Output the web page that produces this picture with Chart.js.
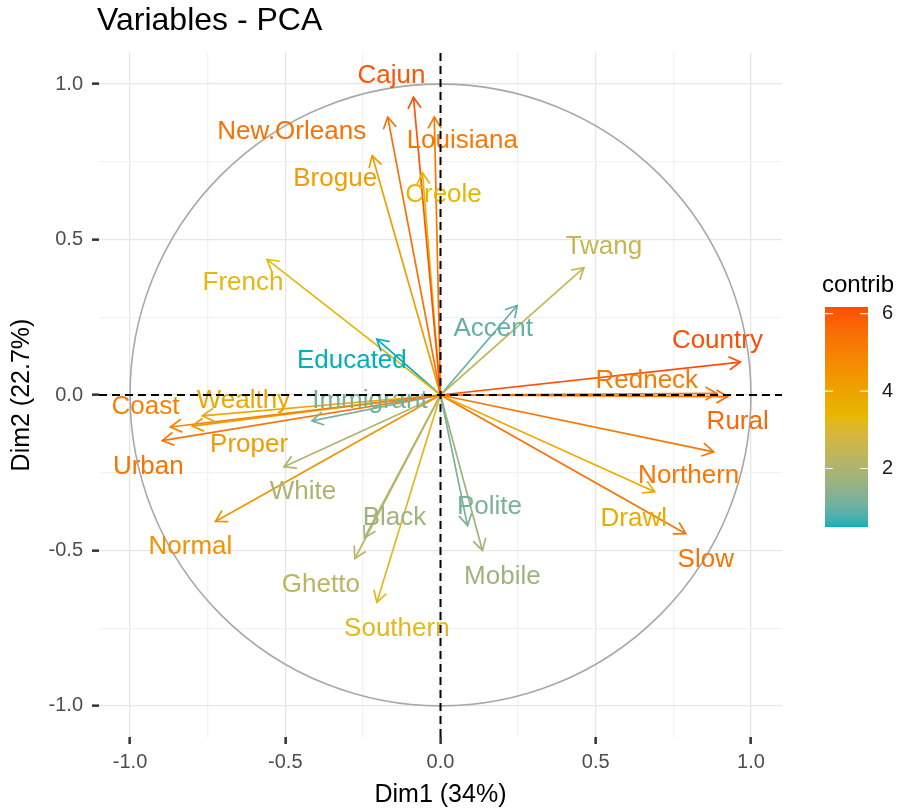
<!DOCTYPE html>
<html>
<head>
<meta charset="utf-8">
<title>Variables - PCA</title>
<script src="https://cdn.jsdelivr.net/npm/chart.js@4.4.1/dist/chart.umd.min.js"></script>
<style>
  html, body { margin: 0; padding: 0; background: #fff; }
  #wrap { width: 912px; height: 811px; }
</style>
</head>
<body>
<div id="wrap"><canvas id="pca"></canvas></div>
<script>
  // Variables and their coordinates on Dim1 / Dim2
  const variables = ['Cajun', 'New.Orleans', 'Louisiana', 'Brogue', 'Creole', 'French', 'Educated',
    'Twang', 'Accent', 'Country', 'Redneck', 'Rural', 'Northern', 'Drawl', 'Slow', 'Polite',
    'Mobile', 'Southern', 'Ghetto', 'Black', 'Normal', 'White', 'Urban', 'Coast', 'Proper',
    'Wealthy', 'Immigrant'];
  const dim1 = [-0.087, -0.17, -0.02, -0.22, -0.058, -0.559, -0.205,
    0.462, 0.247, 0.966, 0.89, 0.925, 0.88, 0.69, 0.79, 0.087,
    0.135, -0.205, -0.276, -0.245, -0.725, -0.504, -0.896, -0.87, -0.80,
    -0.767, -0.414];
  const dim2 = [0.958, 0.894, 0.894, 0.77, 0.715, 0.436, 0.18,
    0.41, 0.288, 0.106, 0.005, -0.005, -0.183, -0.311, -0.446, -0.42,
    -0.50, -0.667, -0.526, -0.46, -0.407, -0.231, -0.147, -0.103, -0.10,
    -0.067, -0.083];
  const contrib = [6.04, 5.41, 5.22, 4.19, 3.36, 3.28, 0.49,
    2.49, 0.94, 6.17, 5.17, 5.59, 5.27, 3.74, 5.37, 1.20,
    1.75, 3.18, 2.30, 1.77, 4.52, 2.01, 5.38, 5.01, 4.24,
    3.87, 1.16];
  const axisTicks = [-1, -0.75, -0.5, -0.25, 0, 0.25, 0.5, 0.75, 1];
  const legendTicks = [2, 4, 6];

  // label placement, pixel nudge from the arrow tip (repel-like)
  const labelNudge = {
    'Cajun': [-22, -21], 'New.Orleans': [-96, 15], 'Louisiana': [28, 24], 'Brogue': [-37, 23],
    'Creole': [21, 22], 'French': [-24, 23], 'Educated': [-25, 22], 'Twang': [20, -21],
    'Accent': [-24, 23], 'Country': [-23, -21], 'Redneck': [-70, -13], 'Rural': [10, 25],
    'Northern': [-25, 24], 'Drawl': [-21, 27], 'Slow': [20, 26], 'Polite': [22, -19],
    'Mobile': [20, 26], 'Southern': [20, 26], 'Ghetto': [-34, 26], 'Black': [30, -20],
    'Normal': [-25, 25], 'White': [19, 25], 'Urban': [-14, 26], 'Coast': [-25, -20],
    'Proper': [57, 19], 'Wealthy': [41, -15], 'Immigrant': [58, -20]
  };

  const FONT = '"Liberation Sans", Arial, Helvetica, sans-serif';
  const gradCols = ['#00AFBB', '#E7B800', '#FC4E07'];
  const cmin = Math.min(...contrib);
  const cmax = Math.max(...contrib);

  // colour gradient interpolated in Lab space (like ggplot's gradientn)
  function hexRgb(h) {
    return [parseInt(h.slice(1, 3), 16), parseInt(h.slice(3, 5), 16), parseInt(h.slice(5, 7), 16)];
  }
  function rgbToLab(rgb) {
    const lin = rgb.map(c => { c /= 255; return c <= 0.04045 ? c / 12.92 : Math.pow((c + 0.055) / 1.055, 2.4); });
    const X = (lin[0] * 0.4124 + lin[1] * 0.3576 + lin[2] * 0.1805) / 0.95047;
    const Y = (lin[0] * 0.2126 + lin[1] * 0.7152 + lin[2] * 0.0722);
    const Z = (lin[0] * 0.0193 + lin[1] * 0.1192 + lin[2] * 0.9505) / 1.08883;
    const f = t => t > 0.008856 ? Math.cbrt(t) : 7.787 * t + 16 / 116;
    const fx = f(X), fy = f(Y), fz = f(Z);
    return [116 * fy - 16, 500 * (fx - fy), 200 * (fy - fz)];
  }
  function labToRgb(lab) {
    const fy = (lab[0] + 16) / 116, fx = fy + lab[1] / 500, fz = fy - lab[2] / 200;
    const inv = t => t * t * t > 0.008856 ? t * t * t : (t - 16 / 116) / 7.787;
    const X = inv(fx) * 0.95047, Y = inv(fy), Z = inv(fz) * 1.08883;
    const r = X * 3.2406 + Y * -1.5372 + Z * -0.4986;
    const g = X * -0.9689 + Y * 1.8758 + Z * 0.0415;
    const b = X * 0.0557 + Y * -0.2040 + Z * 1.0570;
    return [r, g, b].map(c => {
      c = c <= 0.0031308 ? 12.92 * c : 1.055 * Math.pow(c, 1 / 2.4) - 0.055;
      return Math.max(0, Math.min(255, Math.round(c * 255)));
    });
  }
  const gradLab = gradCols.map(h => rgbToLab(hexRgb(h)));
  function contribColor(v) {
    let t = (v - cmin) / (cmax - cmin);
    t = Math.max(0, Math.min(1, t));
    const seg = t < 0.5 ? 0 : 1;
    const lt = (t - seg * 0.5) * 2;
    const a = gradLab[seg], b = gradLab[seg + 1];
    const c = labToRgb(a.map((x, k) => x + (b[k] - x) * lt));
    return 'rgb(' + c.join(',') + ')';
  }

  const datasets = variables.map((name, i) => ({
    label: name,
    data: [{ x: 0, y: 0 }, { x: dim1[i], y: dim2[i] }],
    showLine: true,
    borderColor: contribColor(contrib[i]),
    borderWidth: 1.7,
    pointRadius: 0,
    pointHoverRadius: 0
  }));

  const pcaDecor = {
    id: 'pcaDecor',
    beforeDatasetsDraw(chart) {
      const { ctx, scales: { x, y } } = chart;
      const cx = x.getPixelForValue(0), cy = y.getPixelForValue(0);
      const rx = x.getPixelForValue(1) - cx, ry = cy - y.getPixelForValue(1);
      ctx.save();
      ctx.strokeStyle = '#a8a8a8';
      ctx.lineWidth = 1.6;
      ctx.beginPath();
      ctx.ellipse(cx, cy, rx, ry, 0, 0, Math.PI * 2);
      ctx.stroke();
      ctx.restore();
    },
    afterDatasetsDraw(chart) {
      const { ctx, scales: { x, y }, chartArea } = chart;
      ctx.save();
      // arrow heads
      variables.forEach((name, i) => {
        const pts = chart.getDatasetMeta(i).data;
        const p0 = pts[0], p1 = pts[1];
        const ang = Math.atan2(p1.y - p0.y, p1.x - p0.x);
        const len = 13, spread = Math.PI / 6;
        ctx.strokeStyle = datasets[i].borderColor;
        ctx.lineWidth = 1.7;
        ctx.beginPath();
        ctx.moveTo(p1.x - len * Math.cos(ang - spread), p1.y - len * Math.sin(ang - spread));
        ctx.lineTo(p1.x, p1.y);
        ctx.lineTo(p1.x - len * Math.cos(ang + spread), p1.y - len * Math.sin(ang + spread));
        ctx.stroke();
      });
      // labels
      ctx.font = '26px ' + FONT;
      ctx.textAlign = 'center';
      ctx.textBaseline = 'middle';
      variables.forEach((name, i) => {
        const p1 = chart.getDatasetMeta(i).data[1];
        const nd = labelNudge[name] || [0, -20];
        ctx.fillStyle = datasets[i].borderColor;
        ctx.fillText(name, p1.x + nd[0], p1.y + nd[1]);
      });
      // dashed axes through the origin
      const ox = x.getPixelForValue(0), oy = y.getPixelForValue(0);
      ctx.strokeStyle = '#000';
      ctx.lineWidth = 2;
      ctx.setLineDash([8, 5]);
      ctx.beginPath();
      ctx.moveTo(chartArea.left, oy);
      ctx.lineTo(chartArea.right, oy);
      ctx.moveTo(ox, chartArea.top);
      ctx.lineTo(ox, chartArea.bottom);
      ctx.stroke();
      ctx.restore();
    },
    afterDraw(chart) {
      const { ctx } = chart;
      ctx.save();
      // title
      ctx.fillStyle = '#000';
      ctx.font = '32px ' + FONT;
      ctx.textAlign = 'left';
      ctx.textBaseline = 'middle';
      ctx.fillText('Variables - PCA', 97, 21);

      // colour bar legend
      const bx = 825, bw = 43, btop = 307, bbot = 527;
      const valToY = v => bbot - (v - cmin) / (cmax - cmin) * (bbot - btop);
      for (let py = btop; py < bbot; py++) {
        const v = cmin + (bbot - py - 0.5) / (bbot - btop) * (cmax - cmin);
        ctx.fillStyle = contribColor(v);
        ctx.fillRect(bx, py, bw, 1);
      }
      ctx.strokeStyle = 'rgba(255,255,255,0.9)';
      ctx.lineWidth = 1.2;
      ctx.font = '20px ' + FONT;
      ctx.textAlign = 'left';
      legendTicks.forEach(v => {
        const ty = valToY(v);
        ctx.beginPath();
        ctx.moveTo(bx, ty); ctx.lineTo(bx + 8, ty);
        ctx.moveTo(bx + bw - 8, ty); ctx.lineTo(bx + bw, ty);
        ctx.stroke();
        ctx.fillStyle = '#1a1a1a';
        ctx.fillText(String(v), bx + bw + 14, ty);
      });
      ctx.fillStyle = '#000';
      ctx.font = '24px ' + FONT;
      ctx.textBaseline = 'alphabetic';
      ctx.fillText('contrib', 822, 292);
      ctx.restore();
    }
  };

  const isMajor = v => Math.abs(v * 2 - Math.round(v * 2)) < 1e-6;
  const gridColor = ctx => (isMajor(ctx.tick ? ctx.tick.value : 0) ? '#e6e6e6' : '#f2f2f2');
  const tickMarkColor = ctx => (isMajor(ctx.tick ? ctx.tick.value : 0) ? '#333333' : 'rgba(0,0,0,0)');
  const tickLabel = v => (isMajor(v) ? v.toFixed(1) : '');
  const setTicks = scale => { scale.ticks = axisTicks.map(v => ({ value: v })); };

  new Chart(document.getElementById('pca'), {
    type: 'scatter',
    data: { datasets: datasets },
    options: {
      responsive: true,
      maintainAspectRatio: false,
      animation: false,
      layout: { padding: { top: 53, right: 130, left: 0, bottom: 0 } },
      plugins: {
        legend: { display: false },
        tooltip: { enabled: false },
        title: { display: false }
      },
      scales: {
        x: {
          type: 'linear',
          min: -1.1,
          max: 1.1,
          afterBuildTicks: setTicks,
          afterFit: scale => { scale.height = 74; },
          border: { display: false },
          grid: { color: gridColor, lineWidth: 1.3, tickLength: 7, tickColor: tickMarkColor, tickWidth: 2.5 },
          ticks: { autoSkip: false, maxRotation: 0, padding: 6, color: '#4d4d4d', font: { family: FONT, size: 20 }, callback: tickLabel },
          title: { display: true, text: 'Dim1 (34%)', color: '#000', font: { family: FONT, size: 25 }, padding: { top: 0, bottom: 1 } }
        },
        y: {
          type: 'linear',
          min: -1.1,
          max: 1.1,
          afterBuildTicks: setTicks,
          afterFit: scale => { scale.width = 99; },
          border: { display: false },
          grid: { color: gridColor, lineWidth: 1.3, tickLength: 7, tickColor: tickMarkColor, tickWidth: 2.5 },
          ticks: { autoSkip: false, padding: 9, color: '#4d4d4d', font: { family: FONT, size: 20 }, callback: tickLabel },
          title: { display: true, text: 'Dim2 (22.7%)', color: '#000', font: { family: FONT, size: 25 }, padding: { top: 7, bottom: 0 } }
        }
      }
    },
    plugins: [pcaDecor]
  });
</script>
</body>
</html>
